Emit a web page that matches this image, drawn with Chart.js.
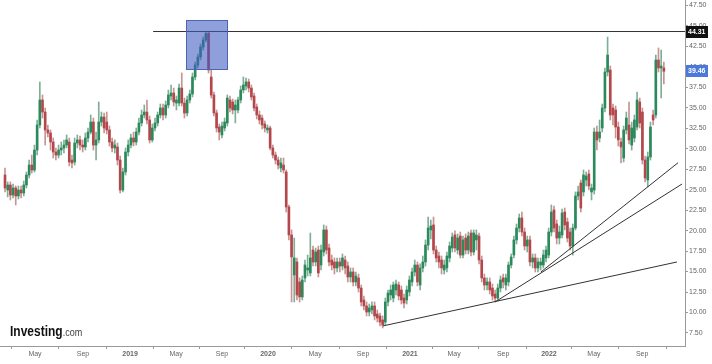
<!DOCTYPE html>
<html>
<head>
<meta charset="utf-8">
<script src="https://cdn.jsdelivr.net/npm/chart.js@4.4.0/dist/chart.umd.min.js"></script>
<style>
  html, body { margin: 0; padding: 0; background: #fff; }
  #wrap { width: 712px; height: 364px; }
</style>
</head>
<body>
<div id="wrap"><canvas id="myChart" width="712" height="364"></canvas></div>
<script>
// weekly candles, Feb 2018 - Oct 2022
const openP = [
  26.79, 24.96, 25.57, 24.35, 25.21, 24.23, 24.96, 24.59, 25.57, 26.79,
  28.01, 27.40, 29.84, 32.90, 35.95, 34.48, 32.29, 31.92, 30.82, 29.60,
  29.23, 29.84, 30.09, 30.45, 30.82, 28.62, 28.38, 30.70, 31.07, 30.45,
  30.21, 31.31, 32.04, 33.26, 30.45, 31.07, 33.26, 33.87, 33.26, 32.29,
  30.82, 30.09, 30.21, 28.62, 24.96, 27.16, 29.60, 30.45, 31.31, 30.82,
  32.04, 33.14, 34.12, 34.48, 33.51, 31.07, 32.53, 33.14, 34.12, 34.97,
  34.12, 35.34, 36.44, 36.80, 35.58, 35.58, 37.41, 35.58, 34.36, 35.95,
  36.68, 38.76, 40.22, 41.20, 42.42, 43.28, 44.10, 38.76, 36.56, 34.36,
  32.65, 31.68, 32.53, 33.14, 35.95, 35.71, 34.73, 34.73, 35.95, 37.17,
  37.66, 38.15, 37.41, 36.44, 35.10, 34.12, 33.75, 33.02, 32.29, 32.53,
  30.09, 29.23, 28.62, 27.65, 28.01, 27.16, 22.89, 19.47, 14.58, 16.17,
  13.73, 11.90, 14.22, 15.19, 14.83, 17.63, 16.17, 17.63, 15.80, 17.39,
  20.08, 17.88, 16.41, 16.17, 15.44, 16.17, 15.68, 16.41, 15.68, 14.34,
  14.95, 13.73, 14.22, 12.99, 11.53, 10.80, 10.06, 10.31, 10.80, 9.82,
  9.58, 9.09, 8.84, 11.29, 12.14, 11.77, 12.75, 13.36, 12.75, 11.77,
  11.53, 12.51, 13.73, 14.95, 15.80, 13.36, 15.44, 16.17, 18.24, 20.08,
  20.69, 17.63, 16.90, 16.41, 15.19, 15.44, 16.66, 17.88, 19.47, 17.63,
  19.34, 17.02, 19.10, 17.63, 19.71, 17.39, 18.86, 19.34, 16.41, 14.22,
  13.36, 13.73, 12.99, 12.26, 11.77, 12.99, 14.22, 13.36, 13.73, 15.80,
  17.02, 18.86, 20.32, 21.54, 19.83, 18.12, 18.86, 16.17, 16.66, 15.44,
  15.80, 15.80, 16.66, 17.02, 19.83, 22.52, 20.81, 19.10, 19.47, 22.27,
  21.05, 19.83, 18.12, 20.32, 24.23, 25.82, 24.72, 26.18, 26.91, 24.72,
  24.96, 32.04, 31.31, 32.53, 34.97, 39.37, 39.61, 34.97, 34.73, 32.65,
  30.82, 28.87, 32.29, 32.90, 30.45, 31.31, 32.65, 35.71, 34.48, 28.62,
  26.18, 28.99, 34.12, 34.12, 40.83, 39.86, 39.86
];
const highP = [
  27.65, 25.94, 25.94, 25.69, 25.45, 25.45, 25.45, 26.06, 27.16, 28.62,
  29.23, 30.45, 33.51, 38.15, 36.56, 34.97, 32.90, 32.29, 31.31, 30.09,
  30.45, 30.82, 31.07, 31.68, 31.31, 29.23, 31.31, 31.68, 31.55, 31.07,
  31.92, 32.53, 34.12, 33.75, 32.04, 35.71, 34.48, 34.36, 34.48, 32.77,
  31.31, 31.07, 30.70, 29.11, 27.65, 30.09, 31.07, 31.80, 32.04, 32.53,
  33.75, 34.73, 35.34, 35.95, 33.99, 33.02, 33.75, 34.48, 35.46, 35.46,
  35.83, 37.17, 37.78, 37.41, 36.44, 37.90, 39.25, 36.19, 36.44, 37.17,
  39.25, 40.59, 41.57, 42.79, 43.64, 44.20, 44.31, 39.61, 36.93, 34.73,
  33.02, 33.26, 33.75, 36.56, 36.44, 36.07, 35.95, 36.32, 37.66, 38.76,
  38.64, 38.51, 37.78, 36.80, 35.46, 34.61, 34.12, 33.39, 32.90, 32.77,
  30.45, 29.60, 28.99, 28.87, 28.87, 27.40, 23.13, 20.08, 19.10, 16.66,
  14.22, 14.46, 16.41, 17.02, 19.71, 18.12, 17.88, 18.12, 18.24, 20.69,
  20.57, 18.37, 17.02, 16.66, 16.66, 16.66, 17.15, 16.90, 16.17, 15.44,
  15.44, 14.95, 14.70, 13.36, 12.02, 11.29, 11.04, 11.29, 11.29, 10.31,
  9.94, 9.58, 11.77, 12.75, 13.36, 13.73, 13.97, 13.73, 13.24, 12.26,
  13.24, 14.46, 15.44, 16.41, 16.17, 15.93, 16.90, 18.86, 21.66, 21.30,
  21.66, 18.12, 17.39, 16.90, 16.41, 17.39, 18.61, 19.71, 19.96, 19.59,
  19.83, 19.34, 19.59, 19.83, 20.08, 20.08, 20.08, 19.71, 16.90, 14.70,
  14.22, 14.22, 13.48, 12.75, 13.48, 14.46, 14.70, 14.70, 16.17, 17.15,
  19.34, 20.81, 22.03, 22.27, 20.32, 19.34, 19.34, 17.15, 17.15, 16.66,
  16.66, 17.63, 18.12, 20.32, 23.13, 23.01, 21.30, 20.57, 22.64, 22.76,
  21.54, 20.32, 20.81, 24.72, 25.45, 26.18, 27.40, 27.16, 27.40, 25.69,
  32.53, 32.77, 33.51, 35.46, 39.86, 43.64, 40.10, 35.46, 35.22, 33.26,
  31.31, 32.77, 34.48, 35.71, 33.26, 34.12, 36.93, 36.19, 34.97, 29.11,
  29.60, 33.26, 34.73, 41.44, 42.30, 42.05, 40.59
];
const lowP = [
  24.72, 24.11, 23.74, 23.98, 23.13, 23.86, 23.98, 24.23, 25.21, 26.43,
  27.03, 27.16, 29.23, 32.53, 33.75, 30.45, 31.43, 29.84, 28.87, 28.62,
  28.87, 29.23, 29.48, 30.09, 27.89, 27.65, 28.01, 30.09, 29.84, 29.60,
  29.84, 30.82, 31.80, 29.84, 28.62, 30.70, 32.77, 31.92, 31.80, 30.33,
  29.60, 29.48, 28.01, 24.59, 24.72, 26.79, 29.11, 30.09, 30.33, 30.45,
  31.68, 32.77, 33.75, 33.02, 30.70, 30.82, 32.16, 32.77, 33.75, 33.51,
  33.75, 34.97, 35.95, 35.22, 34.73, 35.22, 35.22, 33.75, 33.99, 35.58,
  36.32, 38.39, 39.86, 40.83, 42.05, 43.03, 39.25, 36.19, 33.99, 32.04,
  31.07, 31.31, 32.16, 32.77, 34.48, 34.24, 33.14, 34.36, 35.58, 36.80,
  37.17, 36.93, 35.95, 34.61, 33.63, 33.02, 32.41, 32.04, 31.92, 29.84,
  28.87, 28.14, 27.52, 27.16, 27.03, 22.27, 18.86, 11.29, 11.29, 11.53,
  11.29, 11.53, 13.73, 14.46, 14.46, 15.68, 15.68, 14.34, 15.19, 16.90,
  17.15, 15.68, 15.19, 14.70, 14.95, 14.95, 15.19, 14.70, 13.73, 13.73,
  13.24, 13.24, 12.51, 10.80, 10.31, 9.58, 9.58, 9.82, 9.09, 8.84,
  8.35, 8.11, 8.48, 10.80, 11.53, 11.29, 12.14, 11.53, 11.04, 10.55,
  11.04, 12.02, 13.24, 14.46, 13.24, 12.75, 14.95, 15.68, 17.63, 18.98,
  17.15, 16.17, 15.44, 14.70, 14.70, 14.95, 16.17, 17.39, 17.39, 17.15,
  16.66, 16.66, 17.15, 17.15, 16.90, 17.02, 17.63, 15.93, 13.73, 12.75,
  12.75, 12.26, 11.53, 11.29, 11.41, 12.51, 13.00, 12.75, 13.24, 15.44,
  16.66, 18.37, 19.83, 19.34, 17.63, 17.39, 15.68, 15.44, 14.95, 14.95,
  15.19, 15.44, 16.17, 16.66, 19.34, 19.83, 18.37, 18.37, 19.10, 20.08,
  18.61, 17.63, 17.02, 20.08, 23.74, 22.27, 24.23, 25.45, 24.96, 23.74,
  24.47, 29.84, 30.82, 32.04, 34.48, 38.88, 33.51, 32.90, 31.31, 30.33,
  28.26, 28.38, 31.80, 30.58, 29.84, 30.82, 32.29, 32.53, 28.14, 25.94,
  25.33, 28.62, 32.90, 33.75, 39.37, 36.19, 37.90
];
const closeP = [
  25.21, 25.57, 24.35, 25.21, 24.23, 24.96, 24.59, 25.57, 26.79, 28.01,
  27.40, 29.84, 32.90, 35.95, 34.48, 32.29, 31.92, 30.82, 29.60, 29.23,
  29.84, 30.09, 30.45, 31.07, 28.38, 28.26, 30.70, 31.07, 30.45, 30.21,
  31.31, 32.04, 33.26, 30.45, 31.07, 33.26, 33.87, 32.53, 32.29, 30.82,
  30.09, 30.45, 28.62, 24.96, 27.16, 29.60, 30.45, 31.31, 30.82, 32.04,
  33.14, 34.12, 34.48, 33.51, 31.07, 32.53, 33.14, 34.12, 34.97, 34.12,
  35.34, 36.56, 36.80, 35.71, 35.95, 37.41, 35.58, 34.36, 35.95, 36.68,
  38.76, 40.22, 41.20, 42.42, 43.28, 44.05, 39.61, 36.56, 34.36, 32.53,
  32.04, 32.77, 33.26, 36.19, 34.97, 34.73, 35.34, 35.95, 37.17, 37.78,
  38.15, 37.41, 36.32, 34.97, 34.12, 33.51, 32.90, 32.53, 32.53, 30.09,
  29.23, 28.62, 28.01, 28.26, 27.40, 22.89, 19.47, 16.78, 16.66, 12.14,
  11.90, 13.97, 15.80, 15.44, 16.66, 16.17, 17.39, 14.83, 17.63, 20.08,
  17.63, 16.17, 15.80, 15.44, 16.17, 15.68, 16.66, 15.44, 14.34, 14.95,
  13.73, 14.46, 12.99, 11.29, 10.80, 10.06, 10.55, 10.80, 9.58, 9.33,
  8.84, 8.48, 11.29, 12.38, 12.75, 13.36, 13.48, 12.02, 11.53, 11.16,
  12.75, 13.97, 14.95, 15.80, 13.73, 15.44, 16.17, 18.24, 20.32, 20.57,
  17.63, 16.66, 16.17, 15.44, 15.80, 16.90, 18.12, 19.22, 17.88, 19.10,
  17.02, 18.86, 17.63, 19.34, 17.39, 19.71, 19.47, 16.41, 14.22, 13.36,
  13.73, 12.75, 12.02, 11.77, 12.99, 13.97, 13.73, 14.22, 15.80, 16.78,
  18.86, 20.32, 21.54, 19.83, 18.12, 18.86, 16.17, 16.66, 15.44, 16.17,
  16.17, 17.02, 17.63, 19.83, 22.27, 20.32, 19.10, 19.83, 22.15, 20.69,
  19.10, 18.12, 20.32, 24.23, 24.72, 22.76, 26.79, 26.67, 25.45, 25.21,
  32.04, 31.07, 32.04, 34.97, 39.37, 41.44, 34.12, 34.12, 32.65, 31.07,
  30.21, 32.29, 33.75, 31.07, 32.53, 33.51, 35.95, 33.14, 28.62, 26.43,
  28.99, 32.65, 33.51, 40.83, 39.86, 40.10, 39.46
];

// x axis is in weeks from the first candle
const tickPos = [11.2, 29.1, 46.7, 63.9, 81.0, 98.2, 115.8, 133.7, 151.2, 167.7, 186.0, 203.1, 219.9, 237.9];
const tickText = ["May", "Sep", "2019", "May", "Sep", "2020", "May", "Sep", "2021", "May", "Sep", "2022", "May", "Sep"];
const priceTicks = [7.5, 10, 12.5, 15, 17.5, 20, 22.5, 25, 27.5, 30, 32.5, 35, 37.5, 40, 42.5, 45, 47.5];

// drawings
const resistance = 44.31;
const resistanceFrom = 55.3;
const lastPrice = 39.46;
const trendA = [[141.1, 8.36], [250.9, 16.17]];
const trendB = [[183.0, 11.29], [252.8, 25.69]];
const trendC = [[200.1, 14.95], [251.3, 28.29]];
const boxX = [67.6, 82.9];
const boxY = [39.73, 45.72];

const X_MIN = -1.87, X_MAX = 253.9;

const UP = "#2b8a5c", DOWN = "#b4474a";
const UP_WICK = "#7fae96", DOWN_WICK = "#c79393";

const isUp = closeP.map((c, i) => c >= openP[i]);
const bodies = closeP.map((c, i) => ({ x: i, y: [openP[i], c] }));
const wicks = closeP.map((c, i) => ({ x: i, y: [lowP[i], highP[i]] }));

function lineSet(pts) {
  return {
    type: "line",
    data: pts.map(p => ({ x: p[0], y: p[1] })),
    borderColor: "#333",
    borderWidth: 1,
    pointRadius: 0,
    order: 0,
  };
}

// no extra room round the plot: the edge labels may spill over
function noPad(s) {
  s.paddingTop = 0;
  s.paddingBottom = 0;
  s.paddingLeft = 0;
  s.paddingRight = 0;
}

const extras = {
  id: "extras",
  beforeDraw(chart) {
    const c = chart.ctx;
    c.save();
    c.fillStyle = "#fff";
    c.fillRect(0, 0, chart.width, chart.height);
    c.restore();
  },
  afterDatasetsDraw(chart) {
    const c = chart.ctx, xs = chart.scales.x, ys = chart.scales.y;
    const x0 = xs.getPixelForValue(boxX[0]), x1 = xs.getPixelForValue(boxX[1]);
    const y0 = ys.getPixelForValue(boxY[1]), y1 = ys.getPixelForValue(boxY[0]);
    c.save();
    c.fillStyle = "rgba(60, 90, 195, 0.58)";
    c.fillRect(x0, y0, x1 - x0, y1 - y0);
    c.strokeStyle = "#4d64b3";
    c.lineWidth = 1;
    c.strokeRect(Math.round(x0) + 0.5, Math.round(y0) + 0.5, Math.round(x1 - x0), Math.round(y1 - y0));
    c.restore();
  },
  afterDraw(chart) {
    const c = chart.ctx, ys = chart.scales.y, right = chart.chartArea.right;
    function tag(v, bg) {
      const y = Math.round(ys.getPixelForValue(v));
      c.fillStyle = bg;
      c.fillRect(right + 1, y - 6, 22, 12);
      c.fillStyle = "#fff";
      c.font = "bold 7px 'Liberation Sans', Arial, sans-serif";
      c.textBaseline = "middle";
      c.textAlign = "left";
      c.fillText(v.toFixed(2), right + 3, y + 0.5);
    }
    c.save();
    tag(resistance, "#111");
    tag(lastPrice, "#4a78dc");
    // logo, a bit taller than the plain font
    c.translate(10, 336);
    c.scale(1, 1.2);
    c.fillStyle = "#111";
    c.textBaseline = "alphabetic";
    c.font = "bold 12px 'Liberation Sans', Arial, sans-serif";
    c.fillText("Investing", 0, 0);
    const w = c.measureText("Investing").width;
    c.fillStyle = "#444";
    c.font = "9px 'Liberation Sans', Arial, sans-serif";
    c.fillText(".com", w, 0);
    c.restore();
  },
};

const axisFont = { family: "'Liberation Sans', Arial, sans-serif", size: 7 };

new Chart(document.getElementById("myChart"), {
  type: "bar",
  data: {
    datasets: [
      lineSet([[resistanceFrom, resistance], [X_MAX, resistance]]),
      lineSet(trendA),
      lineSet(trendB),
      lineSet(trendC),
      {
        data: bodies,
        backgroundColor: isUp.map(u => (u ? UP : DOWN)),
        barThickness: 2,
        minBarLength: 1,
        grouped: false,
        borderWidth: 0,
        order: 1,
      },
      {
        data: wicks,
        backgroundColor: isUp.map(u => (u ? UP_WICK : DOWN_WICK)),
        barThickness: 1,
        grouped: false,
        borderWidth: 0,
        order: 2,
      },
    ],
  },
  options: {
    responsive: false,
    animation: false,
    layout: { padding: 0 },
    plugins: { legend: { display: false }, tooltip: { enabled: false } },
    scales: {
      x: {
        type: "linear",
        min: X_MIN,
        max: X_MAX,
        offset: false,
        afterBuildTicks: s => { s.ticks = tickPos.map(v => ({ value: v })); },
        afterFit: s => { s.height = 18; noPad(s); },
        grid: { drawOnChartArea: false, drawTicks: true, tickLength: 3, color: "#9a9a9a" },
        border: { display: true, color: "#9a9a9a" },
        ticks: {
          autoSkip: false,
          maxRotation: 0,
          padding: 1,
          color: "#666",
          font: ctx => ({ ...axisFont, weight: /^\d/.test(tickText[ctx.index] || "") ? "bold" : "normal" }),
          callback: (v, i) => tickText[i],
        },
      },
      y: {
        position: "right",
        min: 5.91,
        max: 48.16,
        afterBuildTicks: s => { s.ticks = priceTicks.map(v => ({ value: v })); },
        afterFit: s => { s.width = 27; noPad(s); },
        grid: { drawOnChartArea: false, drawTicks: true, tickLength: 3, color: "#9a9a9a" },
        border: { display: true, color: "#9a9a9a" },
        ticks: {
          padding: 1,
          color: "#666",
          font: axisFont,
          callback: v => Number(v).toFixed(2),
        },
      },
    },
  },
  plugins: [extras],
});
</script>
</body>
</html>
